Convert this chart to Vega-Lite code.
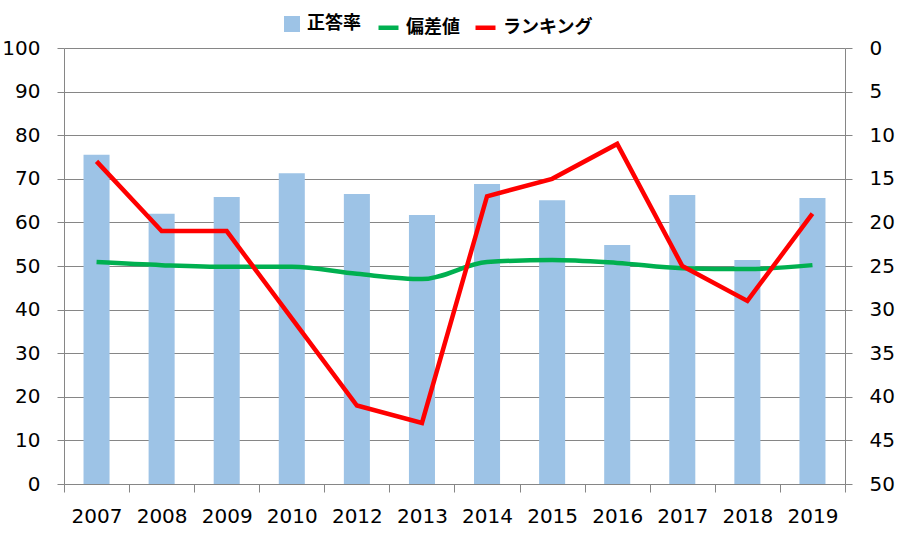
{
  "$schema": "https://vega.github.io/schema/vega-lite/v6.json",
  "width": 781,
  "height": 436,
  "autosize": "none",
  "padding": {"left": 64, "top": 48, "right": 60, "bottom": 62},
  "background": "white",
  "config": {
    "view": {"stroke": null},
    "font": "DejaVu Sans",
    "axis": {"labelFont": "DejaVu Sans", "labelFontSize": 20, "labelColor": "#000000"}
  },
  "data": {"values": [
    {"year": "2007", "rate": 75.5, "dev": 50.9, "rank": 13},
    {"year": "2008", "rate": 62.0, "dev": 50.2, "rank": 21},
    {"year": "2009", "rate": 65.8, "dev": 49.8, "rank": 21},
    {"year": "2010", "rate": 71.3, "dev": 49.8, "rank": 31},
    {"year": "2012", "rate": 66.5, "dev": 48.2, "rank": 41},
    {"year": "2013", "rate": 61.7, "dev": 47.0, "rank": 43},
    {"year": "2014", "rate": 68.8, "dev": 50.9, "rank": 17},
    {"year": "2015", "rate": 65.1, "dev": 51.4, "rank": 15},
    {"year": "2016", "rate": 54.8, "dev": 50.7, "rank": 11},
    {"year": "2017", "rate": 66.3, "dev": 49.5, "rank": 25},
    {"year": "2018", "rate": 51.4, "dev": 49.3, "rank": 29},
    {"year": "2019", "rate": 65.6, "dev": 50.2, "rank": 19}
  ]},
  "encoding": {
    "x": {
      "field": "year", "type": "ordinal", "title": null,
      "scale": {"paddingInner": 0, "paddingOuter": 0},
      "axis": {"labelAngle": 0, "tickBand": "extent", "domainColor": "#868686", "tickColor": "#868686", "tickSize": 8, "labelPadding": 14, "grid": false}
    }
  },
  "layer": [
    {
      "transform": [{"calculate": "'正答率'", "as": "s1"}],
      "mark": {"type": "bar", "color": "#9DC3E6", "width": {"band": 0.4}},
      "encoding": {
        "y": {"field": "rate", "type": "quantitative", "title": null,
          "scale": {"domain": [0, 100], "nice": false},
          "axis": {"values": [0,10,20,30,40,50,60,70,80,90,100], "grid": true, "gridColor": "#868686", "gridWidth": 1, "domainColor": "#868686", "tickColor": "#868686", "tickSize": 7, "labelPadding": 17}},
        "fill": {"field": "s1", "type": "nominal", "title": null,
          "scale": {"domain": ["正答率"], "range": ["#9DC3E6"]},
          "legend": {"orient": "none", "legendX": 219, "legendY": -33, "symbolType": "square", "symbolSize": 256, "labelOffset": 6, "labelFont": "Noto Sans CJK JP", "labelFontWeight": "bold", "labelFontSize": 18, "labelColor": "#000000"}}
      }
    },
    {
      "transform": [{"calculate": "'偏差値'", "as": "s2"}],
      "mark": {"type": "line", "strokeWidth": 4.5, "interpolate": "monotone"},
      "encoding": {
        "y": {"field": "dev", "type": "quantitative", "scale": {"domain": [0, 100], "nice": false}, "axis": null},
        "stroke": {"field": "s2", "type": "nominal", "title": null,
          "scale": {"domain": ["偏差値", "ランキング"], "range": ["#00B050", "#FF0000"]},
          "legend": {"orient": "none", "legendX": 312, "legendY": -33, "direction": "horizontal", "symbolType": "stroke", "symbolStrokeWidth": 4.5, "symbolSize": 400, "labelOffset": 5, "columnPadding": 6, "labelFont": "Noto Sans CJK JP", "labelFontWeight": "bold", "labelFontSize": 18, "labelColor": "#000000"}}
      }
    },
    {
      "transform": [{"calculate": "'ランキング'", "as": "s2"}],
      "mark": {"type": "line", "strokeWidth": 4.5},
      "encoding": {
        "y": {"field": "rank", "type": "quantitative", "title": null,
          "scale": {"domain": [0, 50], "reverse": true, "nice": false},
          "axis": {"orient": "right", "values": [0,5,10,15,20,25,30,35,40,45,50], "grid": false, "domainColor": "#868686", "tickColor": "#868686", "tickSize": 7, "labelPadding": 17}},
        "stroke": {"field": "s2", "type": "nominal", "title": null, "scale": {"domain": ["偏差値", "ランキング"], "range": ["#00B050", "#FF0000"]}}
      }
    }
  ],
  "resolve": {"scale": {"y": "independent"}}
}
